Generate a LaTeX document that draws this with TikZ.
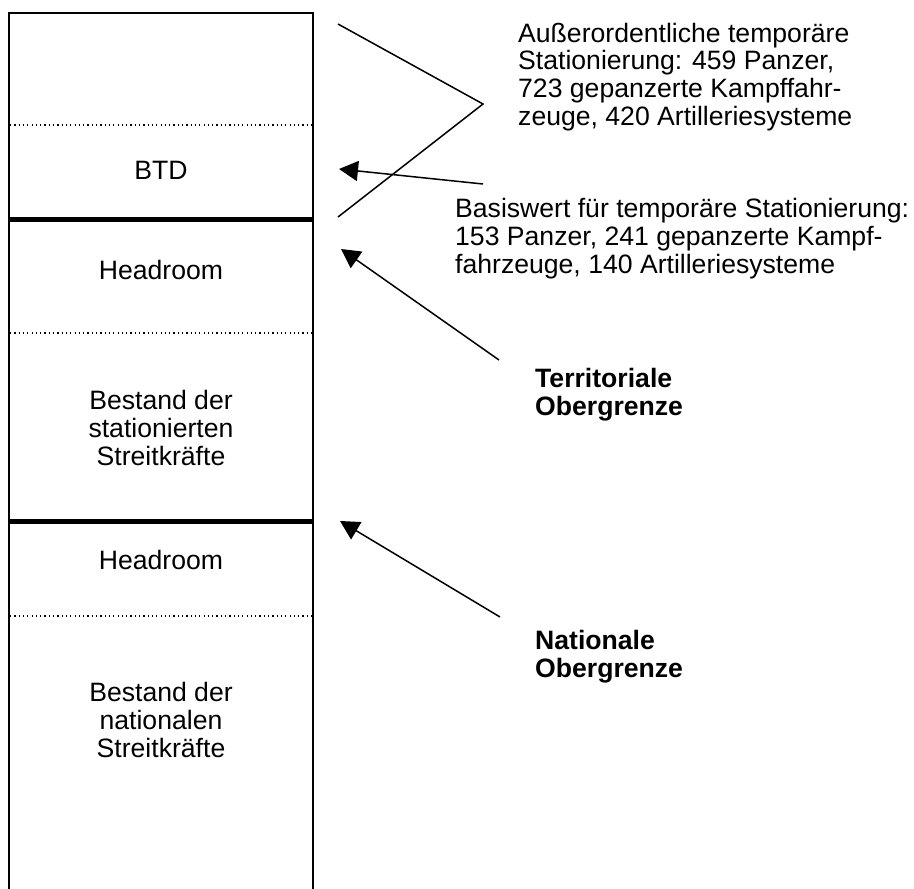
\documentclass[tikz,border=0pt]{standalone}
\usepackage{fontspec}
\setmainfont{Liberation Sans}
\usetikzlibrary{arrows.meta,positioning}

\tikzset{
	txt/.style = {font = \fontsize{26.6}{27.6}\selectfont, inner sep = 0pt},
	lbl/.style = {txt, align = center},
	note/.style = {txt, align = left, anchor = base west},
	limit/.style = {line width = 5pt},
	sublimit/.style = {line width = 1.2pt, dash pattern = on 1.2pt off 3.1pt},
	pointer/.style = {line width = 1.5pt, -{Triangle[length = 19pt, width = 20pt]}}
}

\begin{document}
\begin{tikzpicture}[x = 1pt, y = -1pt]
	\useasboundingbox (0,0) rectangle (914,889);
	
	% column
	\draw[line width = 2.3pt] (9,889) -- (9,13) -- (313,13) -- (313,889);
	\foreach \y in {125, 333, 616} {
		\draw[sublimit] (10,\y) -- (312,\y);
	}
	\foreach \y in {219, 521} {
		\draw[limit] (9,\y) -- (313,\y);
	}
	
	\node[lbl] (btd) at (161,170) {BTD};
	\node[lbl] (head1) at (161,270) {Headroom};
	\node[lbl] (stat) at (161,428) {Bestand der\\stationierten\\Streitkräfte};
	\node[lbl] (head2) at (161,560) {Headroom};
	\node[lbl] (nat) at (161,720) {Bestand der\\nationalen\\Streitkräfte};
	
	% notes (anchored at the baseline of their last line)
	\node[note] (extra) at (518,125) {Außerordentliche temporäre\\Stationierung: 459 Panzer,\\723 gepanzerte Kampffahr-\\zeuge, 420 Artilleriesysteme};
	\node[note] (basis) at (455,273) {Basiswert für temporäre Stationierung:\\153 Panzer, 241 gepanzerte Kampf-\\fahrzeuge, 140 Artilleriesysteme};
	\node[note, font = \fontsize{26.6}{27.6}\selectfont\bfseries] (terr) at (535,415.5) {Territoriale\\Obergrenze};
	\node[note, font = \fontsize{26.6}{27.6}\selectfont\bfseries] (natl) at (535,677) {Nationale\\Obergrenze};
	
	\coordinate (bra top) at (338,24);
	\coordinate (bra tip) at (483,104);
	\coordinate (bra bot) at (338,217);
	\coordinate (btd from) at (483,184);
	\coordinate (btd to) at (339,169);
	\coordinate (terr from) at (499,360);
	\coordinate (terr to) at (341,249);
	\coordinate (natl from) at (500,617);
	\coordinate (natl to) at (340,521);
	
	\draw[line width = 1.5pt] (bra top) -- (bra tip) -- (bra bot);
	\draw[pointer] (btd from) -- (btd to);
	\draw[pointer] (terr from) -- (terr to);
	\draw[pointer] (natl from) -- (natl to);
\end{tikzpicture}
\end{document}
